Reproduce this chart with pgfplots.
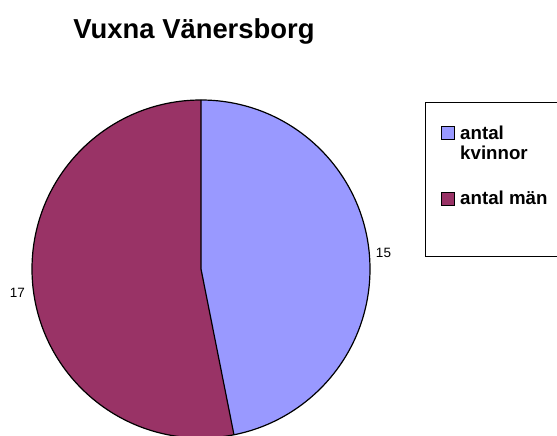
\documentclass[border=0pt]{standalone}
\usepackage{pgfplots}
\pgfplotsset{compat=1.18}
\usepackage{fontspec}
\setmainfont{Liberation Sans}
\definecolor{kvinnor}{HTML}{9999FF}
\definecolor{man}{HTML}{993366}
\begin{document}
\begin{tikzpicture}
% values: antal kvinnor, antal män
\pgfmathsetmacro\va{15}
\pgfmathsetmacro\vb{17}
\pgfmathsetmacro\split{90-360*\va/(\va+\vb)}
\begin{axis}[width=557bp, height=436bp, scale only axis,
  xmin=0, xmax=557, ymin=0, ymax=436, hide axis, clip=true]
\addplot[draw=none] coordinates {(0,0) (557,436)};
% pie
\fill[kvinnor] (axis cs:201,167) -- (axis cs:201,336)
  arc[start angle=90, end angle=\split, radius=169bp] -- cycle;
\fill[man] (axis cs:201,167) -- (axis cs:201,336)
  arc[start angle=90, end angle=\split+360, radius=169bp] -- cycle;
\draw[black, line width=1.2bp] (axis cs:201,167) circle[radius=169bp];
\draw[black, line width=1.2bp] (axis cs:201,336) -- (axis cs:201,167) -- +(\split:169bp);
% data labels
\node[anchor=base, font=\fontsize{13.5bp}{15bp}\selectfont] at (axis cs:383.5,178) {15};
\node[anchor=base, font=\fontsize{13.5bp}{15bp}\selectfont] at (axis cs:17.5,138) {17};
% title
\node[anchor=base, font=\fontsize{27.4bp}{30bp}\selectfont\bfseries] at (axis cs:194,397) {Vuxna Vänersborg};
% legend
\draw[black, line width=0.8bp] (axis cs:565,180) -- (axis cs:425,180) -- (axis cs:425,334) -- (axis cs:565,334);
\draw[black, line width=0.6bp, fill=kvinnor] (axis cs:441,297) rectangle (axis cs:454,310);
\draw[black, line width=0.6bp, fill=man] (axis cs:441,231) rectangle (axis cs:454,244);
\node[anchor=base west, inner sep=0pt, font=\fontsize{18.7bp}{20bp}\selectfont\bfseries] at (axis cs:460,296) {antal};
\node[anchor=base west, inner sep=0pt, font=\fontsize{18.7bp}{20bp}\selectfont\bfseries] at (axis cs:460,276) {kvinnor};
\node[anchor=base west, inner sep=0pt, font=\fontsize{18.7bp}{20bp}\selectfont\bfseries] at (axis cs:460,231) {antal män};
\end{axis}
\end{tikzpicture}
\end{document}
